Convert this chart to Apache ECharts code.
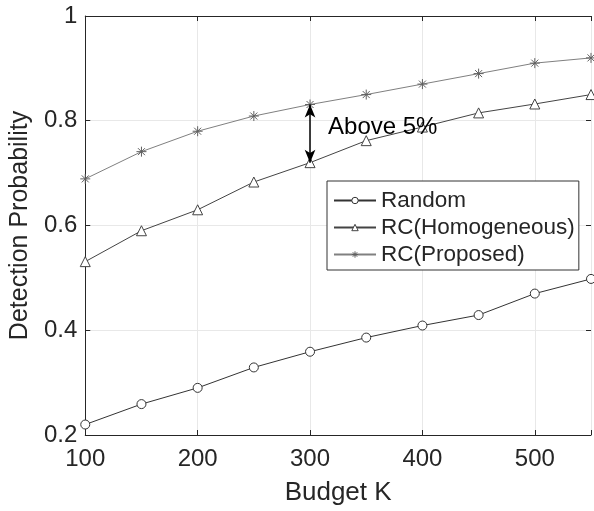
<!DOCTYPE html>
<html><head><meta charset="utf-8">
<script src="https://cdn.jsdelivr.net/npm/echarts@6/dist/echarts.min.js"></script>
<style>html,body{margin:0;padding:0;background:#fff}#c{width:594px;height:511px}</style>
</head><body><div id="c"></div>
<script>
const budgets = [100,150,200,250,300,350,400,450,500,550];
const randomVals = [0.220,0.259,0.290,0.329,0.359,0.386,0.409,0.429,0.470,0.498];
const homogeneousVals = [0.531,0.590,0.630,0.683,0.720,0.762,0.788,0.815,0.832,0.850];
const proposedVals = [0.689,0.741,0.780,0.809,0.831,0.850,0.870,0.890,0.910,0.920];
const seriesNames = ['Random','RC(Homogeneous)','RC(Proposed)'];
const xTicks = [100,200,300,400,500];
const yTicks = [0.2,0.4,0.6,0.8,1];
const annotationX = 300;
const annotationText = 'Above 5%';

const FONT = '"Liberation Sans", Arial, Helvetica, sans-serif';
const TXT = '#262626';
const pair = (vals) => budgets.map((b,i)=>[b, vals[i]]);
const idx = budgets.indexOf(annotationX);

const chart = echarts.init(document.getElementById('c'));
const axisCommon = {
  axisLine:{show:true,lineStyle:{color:TXT,width:1}},
  axisTick:{show:true,inside:true,length:5,lineStyle:{color:TXT}},
  splitLine:{show:false}
};
chart.setOption({
  animation:false,
  backgroundColor:'#fff',
  textStyle:{fontFamily:FONT},
  grid:{left:81,right:0,top:16,bottom:74,show:false},
  xAxis:[
    Object.assign({type:'value',min:100,max:550,interval:100,position:'bottom',
      name:'Budget K',nameLocation:'middle',nameGap:45,
      nameTextStyle:{fontSize:26,color:TXT,fontFamily:FONT},
      axisLabel:{fontSize:24,color:TXT,margin:12,fontFamily:FONT,
        formatter:v=>xTicks.includes(v)?String(v):''},
      splitLine:{show:true,lineStyle:{color:'#e8e8e8',width:1}}},
      {axisLine:axisCommon.axisLine,axisTick:axisCommon.axisTick}),
    Object.assign({type:'value',min:100,max:550,interval:100,position:'top',
      axisLabel:{show:false}}, axisCommon)
  ],
  yAxis:[
    Object.assign({type:'value',min:0.2,max:1,interval:0.2,position:'left',
      name:'Detection Probability',nameLocation:'middle',nameGap:50,
      nameTextStyle:{fontSize:25,color:TXT,fontFamily:FONT},
      axisLabel:{fontSize:24,color:TXT,margin:8,fontFamily:FONT,
        formatter:v=>{const r=Math.round(v*10)/10;return yTicks.includes(r)?String(r):'';}},
      splitLine:{show:true,lineStyle:{color:'#e8e8e8',width:1}}},
      {axisLine:axisCommon.axisLine,axisTick:axisCommon.axisTick}),
    Object.assign({type:'value',min:0.2,max:1,interval:0.2,position:'right',
      axisLabel:{show:false}}, axisCommon, {axisLine:{show:false}})
  ],
  legend:{
    data:seriesNames,orient:'vertical',left:327,top:181,
    padding:[8,4,4,6],itemGap:4,itemWidth:42,itemHeight:8,
    itemStyle:{borderWidth:1},
    backgroundColor:'#fff',borderColor:'#333',borderWidth:1,borderRadius:0,
    textStyle:{fontSize:22.5,color:TXT,fontFamily:FONT}
  },
  series:[
    {name:seriesNames[0],type:'line',data:pair(randomVals),symbol:'circle',symbolSize:9,
      lineStyle:{color:'#333',width:1},
      itemStyle:{color:'#fff',borderColor:'#333',borderWidth:1},color:'#333',z:3},
    {name:seriesNames[1],type:'line',data:pair(homogeneousVals),symbol:'triangle',symbolSize:10,
      lineStyle:{color:'#444',width:1},
      itemStyle:{color:'#fff',borderColor:'#444',borderWidth:1},color:'#444',z:3,
      markLine:{silent:true,symbol:['arrow','arrow'],symbolSize:[8,13],
        lineStyle:{color:'#000',width:1.5,type:'solid'},label:{show:false},
        data:[[{coord:[annotationX,proposedVals[idx]]},{coord:[annotationX,homogeneousVals[idx]]}]]},
      markPoint:{silent:true,symbol:'circle',symbolSize:0,
        data:[{coord:[annotationX,(proposedVals[idx]+homogeneousVals[idx])/2+0.012],
          label:{show:true,formatter:annotationText,position:'right',distance:18,
            fontSize:24,color:'#000',fontFamily:FONT}}]}},
    {name:seriesNames[2],type:'line',data:pair(proposedVals),symbol:'path://M0,-5L0,5M-5,0L5,0M-3.5,-3.5L3.5,3.5M-3.5,3.5L3.5,-3.5',symbolSize:10,
      lineStyle:{color:'#808080',width:1},
      itemStyle:{color:'#808080',borderColor:'#606060',borderWidth:1},color:'#808080',z:3}
  ]
});
</script></body></html>
